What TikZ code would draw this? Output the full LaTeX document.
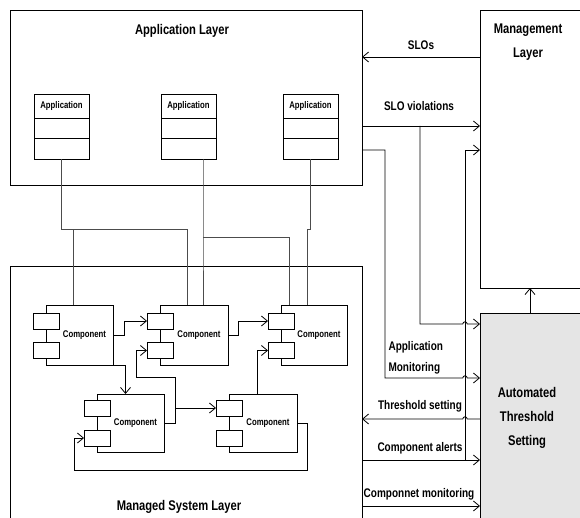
\documentclass[tikz,border=0pt]{standalone}
\usepackage{fontspec}
\setmainfont{Liberation Sans}[FakeStretch=0.8]
\usetikzlibrary{positioning,arrows.meta}

\tikzset{
	layer/.style = {draw, line width=0.8pt, anchor=north west, inner sep=0pt, outer sep=0pt},
	title/.style = {font=\fontsize{14}{24}\selectfont\bfseries, align=center},
	lbl/.style = {font=\fontsize{12.5}{21}\selectfont\bfseries},
	appbox/.style = {draw, line width=0.8pt, fill=white, minimum width=55pt, inner sep=0pt, outer sep=0pt, font=\fontsize{9.7}{10}\selectfont\bfseries},
	body/.style = {draw, line width=0.8pt, anchor=north west, minimum width=67pt, inner sep=0pt, outer sep=0pt},
	comptext/.style = {xshift=5pt, font=\fontsize{9.7}{10}\selectfont\bfseries},
	port/.style = {draw, line width=0.8pt, fill=white, minimum width=26pt, minimum height=16pt, inner sep=0pt, outer sep=0pt},
	flow/.style = {->, line width=0.8pt},
	wire/.style = {line width=0.8pt, black!70},
	>={Straight Barb[length=6pt,width=10pt]},
}

\begin{document}
\begin{tikzpicture}[x=1pt, y=-1pt]
	\useasboundingbox (0,0) rectangle (580,518);
	\clip (0,0) rectangle (580,518);
	
	\node[layer, minimum width=352pt, minimum height=175pt] (applayer) at (10,10) {};
	\node[title] (apptitle) at (182,31) {Application Layer};
	\node[layer, minimum width=352pt, minimum height=270pt] (syslayer) at (10,266) {};
	\node[title] (systitle) at (179,507) {Managed System Layer};
	\node[layer, minimum width=120pt, minimum height=278pt] (mgmt) at (480,10) {};
	\node[title] (mgmttitle) at (528,42) {Management\\Layer};
	\node[layer, fill=gray!20, minimum width=120pt, minimum height=220pt] (ats) at (480,313) {};
	\node[title] (atstitle) at (527,418) {Automated\\Threshold\\Setting};
	
	\node[appbox, minimum height=24pt] (app1) at (61.5,106) {Application};
	\node[appbox, minimum height=20.5pt, below=0pt of app1] (app1a) {};
	\node[appbox, minimum height=20.5pt, below=0pt of app1a] (app1b) {};
	\node[appbox, minimum height=24pt] (app2) at (188.5,106) {Application};
	\node[appbox, minimum height=20.5pt, below=0pt of app2] (app2a) {};
	\node[appbox, minimum height=20.5pt, below=0pt of app2a] (app2b) {};
	\node[appbox, minimum height=24pt] (app3) at (310.5,106) {Application};
	\node[appbox, minimum height=20.5pt, below=0pt of app3] (app3a) {};
	\node[appbox, minimum height=20.5pt, below=0pt of app3a] (app3b) {};
	
	\node[body, minimum height=60pt, label={[comptext]center:Component}] (c1) at (46,305) {};
	\node[port] (c1a) at ([yshift=-16pt]c1.north west) {};
	\node[port] (c1b) at ([yshift=-45.5pt]c1.north west) {};
	\node[body, minimum width=68pt, minimum height=60pt, label={[comptext]center:Component}] (c2) at (160,305) {};
	\node[port] (c2a) at ([yshift=-16pt]c2.north west) {};
	\node[port] (c2b) at ([yshift=-45.5pt]c2.north west) {};
	\node[body, minimum width=66pt, minimum height=60pt, label={[comptext]center:Component}] (c3) at (281,305) {};
	\node[port] (c3a) at ([yshift=-16pt]c3.north west) {};
	\node[port] (c3b) at ([yshift=-45.5pt]c3.north west) {};
	\node[body, minimum height=58pt, label={[comptext]center:Component}] (c4) at (97,394) {};
	\node[port] (c4a) at ([yshift=-14pt]c4.north west) {};
	\node[port] (c4b) at ([yshift=-44pt]c4.north west) {};
	\node[body, minimum width=68pt, minimum height=58pt, label={[comptext]center:Component}] (c5) at (229,394) {};
	\node[port] (c5a) at ([yshift=-14pt]c5.north west) {};
	\node[port] (c5b) at ([yshift=-44pt]c5.north west) {};
	
	\draw[flow] (c1.east) -- ++(11,0) |- (c2a.west);
	\draw[flow] (c1.south east) -| ([xshift=-5pt]c4.north);
	\draw[flow] (c4.east) -- ++(11,0) coordinate (fork) -- ++(0,-46) -| ([xshift=-11pt]c2b.west) -- (c2b.west);
	\draw[flow] (c5a.west -| fork) -- (c5a.west);
	\draw[flow] ([xshift=-6pt]c5.north) |- (c3b.west);
	\draw[flow] (c2.east) -- ++(10,0) |- (c3a.west);
	\draw[flow] (c5.east) -- ++(10,0) -- ++(0,47) -| ([xshift=-10pt]c4b.west) -- (c4b.west);
	
	\draw[wire] (app1b.south) -- ++(0,70) -| ([xshift=-7pt]c2.north);
	\draw[wire] ([xshift=-6.5pt]c1.north) -- ++(0,-76);
	\draw[wire] ([xshift=14.5pt]app2b.south) -- ++(0,78) coordinate (app2turn) -- ([xshift=9pt]c2.north);
	\draw[wire] (app2turn) -| ([xshift=-25pt]c3.north);
	\draw[wire] (app3b.south) -- ++(0,70) -| ([xshift=-7pt]c3.north);
	
	\coordinate (split) at (420,126);
	\coordinate (amon) at (385,150);
	\coordinate (bus) at (465,460);
	
	\draw[flow] (mgmt.west |- 0,57) -- (applayer.east |- 0,57);
	\draw[flow] (applayer.east |- split) -- (mgmt.west |- split);
	\draw[flow] (split) -- (420,324) -- (462.8,324) arc[start angle=180, end angle=360, radius=2.2] -- (ats.west |- 0,324);
	\draw[flow] (applayer.east |- amon) -- (amon) -- (385,378) -- (462.8,378) arc[start angle=180, end angle=360, radius=2.2] -- (ats.west |- 0,378);
	\draw[flow] (bus) -- (465,150) -- (mgmt.west |- 0,150);
	\draw[flow] (ats.west |- 0,419) -- (467.2,419) arc[start angle=0, end angle=-180, radius=2.2] -- (syslayer.east |- 0,419);
	\draw[flow] (syslayer.east |- bus) -- (ats.west |- bus);
	\draw[flow] (syslayer.east |- 0,506) -- (ats.west |- 0,506);
	\draw[flow] ([xshift=-10pt]ats.north) -- ([xshift=-10pt]mgmt.south);
	
	\node[lbl] (slolbl) at (421,45) {SLOs};
	\node[lbl] (viollbl) at (419,106) {SLO violations};
	\node[lbl, align=left, anchor=west] (amonlbl) at (385,358) {Application\\Monitoring};
	\node[lbl] (thrlbl) at (420,406) {Threshold setting};
	\node[lbl] (alertlbl) at (420,448) {Component alerts};
	\node[lbl] (cmonlbl) at (419,494) {Componnet monitoring};
\end{tikzpicture}
\end{document}
